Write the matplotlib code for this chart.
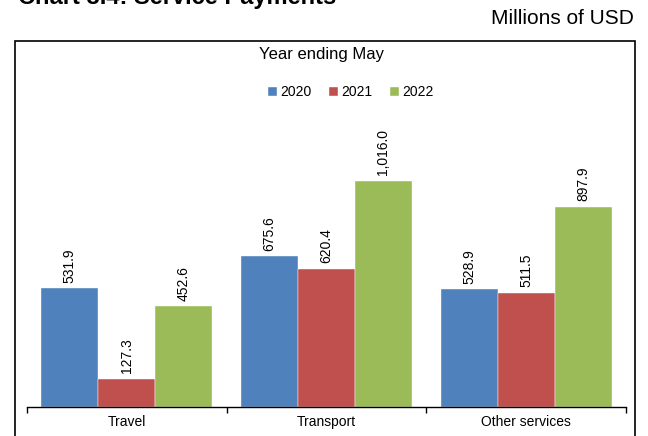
import numpy as np
import matplotlib.pyplot as plt
from matplotlib.patches import Rectangle

plt.rcParams['font.family'] = ['Liberation Sans', 'DejaVu Sans']

categories = ["Travel", "Transport", "Other services"]
years = ["2020", "2021", "2022"]
payments = {
    "2020": [531.9, 675.6, 528.9],
    "2021": [127.3, 620.4, 511.5],
    "2022": [452.6, 1016.0, 897.9],
}
colors = ["#4F81BD", "#C0504D", "#9BBB59"]

W, H = 648, 436
fig = plt.figure(figsize=(W / 100, H / 100), dpi=100)

# plot area: x axis from px 27 to 626, baseline at px 407
ax = fig.add_axes([27 / W, (H - 407) / H, 599 / W, 356.5 / H])
ax.set_xlim(0, 3)
ax.set_ylim(0, 1600)

x = np.arange(len(categories)) + 0.5
bw = 0.285
for i, yr in enumerate(years):
    vals = payments[yr]
    bars = ax.bar(x + (i - 1) * bw, vals, width=bw, color=colors[i],
                  edgecolor="white", linewidth=0.3, label=yr)
    for b, v in zip(bars, vals):
        ax.annotate(f"{v:,.1f}", (b.get_x() + b.get_width() / 2, v),
                    xytext=(0, 4), textcoords="offset points",
                    rotation=90, ha="center", va="bottom", fontsize=10)

for s in ["top", "right", "left"]:
    ax.spines[s].set_visible(False)
ax.spines["bottom"].set_linewidth(1.0)
ax.set_yticks([])
ax.set_xticks(x)
ax.set_xticklabels(categories, fontsize=10)
ax.tick_params(axis="x", which="major", length=0, pad=6)
ax.set_xticks([0, 1, 2, 3], minor=True)
ax.tick_params(axis="x", which="minor", length=4, width=1.0, direction="out")

# legend
leg = fig.legend(loc="center", bbox_to_anchor=(351 / W, 1 - 92.5 / H), ncol=3,
                 frameon=False, fontsize=10, handlelength=0.6, handleheight=0.6,
                 handletextpad=0.25, columnspacing=1.3)

fig.text(321.5 / W, 1 - 55 / H, "Year ending May", ha="center", va="center", fontsize=12)
fig.text(634 / W, 1 - 18.5 / H, "Millions of USD", ha="right", va="center", fontsize=15)
fig.text(18 / W, 1 - 4 / H, "Chart 3.4: Service Payments", ha="left", va="baseline",
         fontsize=17, fontweight="bold")

# chart border
fig.patches.append(Rectangle((15 / W, -0.05), 620 / W, 1 - 41 / H + 0.05,
                             transform=fig.transFigure, fill=False,
                             edgecolor="black", linewidth=1.2))

fig.savefig("out.png", dpi=100)
